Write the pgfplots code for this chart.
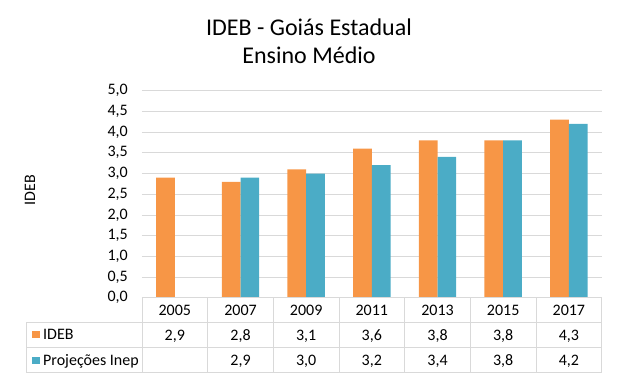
\documentclass[border=0pt]{standalone}
\usepackage{pgfplots}
\pgfplotsset{compat=1.18}
\usepackage{fontspec}
\setmainfont{Carlito}
\definecolor{ideb}{HTML}{F79646}
\definecolor{proj}{HTML}{4BACC6}
\definecolor{gridc}{HTML}{D9D9D9}
\newcommand{\tfont}{\fontsize{16}{19}\selectfont}
\begin{document}
\begin{tikzpicture}[x=1pt,y=1pt]
\useasboundingbox (0,0) rectangle (619,378);
\begin{axis}[
  at={(142pt,80.3pt)}, anchor=south west,
  width=459.7pt, height=207pt, scale only axis,
  ybar=0pt, bar width=18.7pt,
  xmin=-0.5, xmax=6.5, ymin=0, ymax=5,
  ytick={0,0.5,...,5},
  xtick=\empty,
  ymajorgrids, grid style={gridc, line width=0.75pt},
  axis line style={draw=none},
  major tick length=0pt,
  /pgf/number format/assume math mode=true,
  yticklabel style={/pgf/number format/fixed, /pgf/number format/fixed zerofill,
    /pgf/number format/precision=1, /pgf/number format/use comma,
    font=\tfont, inner sep=0pt, xshift=-14pt},
  clip=false,
]
\addplot[fill=ideb, draw=none] coordinates {(0,2.9) (1,2.8) (2,3.1) (3,3.6) (4,3.8) (5,3.8) (6,4.3)};
\addplot[fill=proj, draw=none] coordinates {(1,2.9) (2,3.0) (3,3.2) (4,3.4) (5,3.8) (6,4.2)};
% table text
\begin{scope}[every node/.style={anchor=base, font=\tfont, inner sep=0pt}]
\node[yshift=-17.3pt] at (axis cs:0,0) {2005};
\node[yshift=-17.3pt] at (axis cs:1,0) {2007};
\node[yshift=-17.3pt] at (axis cs:2,0) {2009};
\node[yshift=-17.3pt] at (axis cs:3,0) {2011};
\node[yshift=-17.3pt] at (axis cs:4,0) {2013};
\node[yshift=-17.3pt] at (axis cs:5,0) {2015};
\node[yshift=-17.3pt] at (axis cs:6,0) {2017};
\node[yshift=-42.3pt] at (axis cs:0,0) {2,9};
\node[yshift=-42.3pt] at (axis cs:1,0) {2,8};
\node[yshift=-42.3pt] at (axis cs:2,0) {3,1};
\node[yshift=-42.3pt] at (axis cs:3,0) {3,6};
\node[yshift=-42.3pt] at (axis cs:4,0) {3,8};
\node[yshift=-42.3pt] at (axis cs:5,0) {3,8};
\node[yshift=-42.3pt] at (axis cs:6,0) {4,3};
\node[yshift=-67.3pt] at (axis cs:1,0) {2,9};
\node[yshift=-67.3pt] at (axis cs:2,0) {3,0};
\node[yshift=-67.3pt] at (axis cs:3,0) {3,2};
\node[yshift=-67.3pt] at (axis cs:4,0) {3,4};
\node[yshift=-67.3pt] at (axis cs:5,0) {3,8};
\node[yshift=-67.3pt] at (axis cs:6,0) {4,2};
\end{scope}
\end{axis}
% table grid
\begin{scope}[gridc, line width=0.75pt]
\draw (142,80.3) -- (601.7,80.3);
\draw (26,55.7) -- (601.7,55.7);
\draw (26,30.3) -- (601.7,30.3);
\draw (26,5.7) -- (601.7,5.7);
\draw (26,55.7) -- (26,5.7);
\foreach \i in {0,...,7} { \draw ({142+65.67*\i},80.3) -- ({142+65.67*\i},5.7); }
\end{scope}
% legend keys in table
\fill[ideb] (32,40) rectangle (40,47.3);
\fill[proj] (32,13.7) rectangle (40,21);
\node[anchor=base west, inner sep=0pt, font=\tfont] at (43,38) {IDEB};
\node[anchor=base west, inner sep=0pt, font=\tfont] at (43,13) {Projeções Inep};
% axis label
\node[rotate=90, inner sep=0pt, font=\tfont] at (30,188) {IDEB};
% title
\node[anchor=base, inner sep=0pt, font=\fontsize{24}{28}\selectfont] at (309,342.3) {IDEB - Goiás Estadual};
\node[anchor=base, inner sep=0pt, font=\fontsize{24}{28}\selectfont] at (309,314.7) {Ensino Médio};
\end{tikzpicture}
\end{document}
